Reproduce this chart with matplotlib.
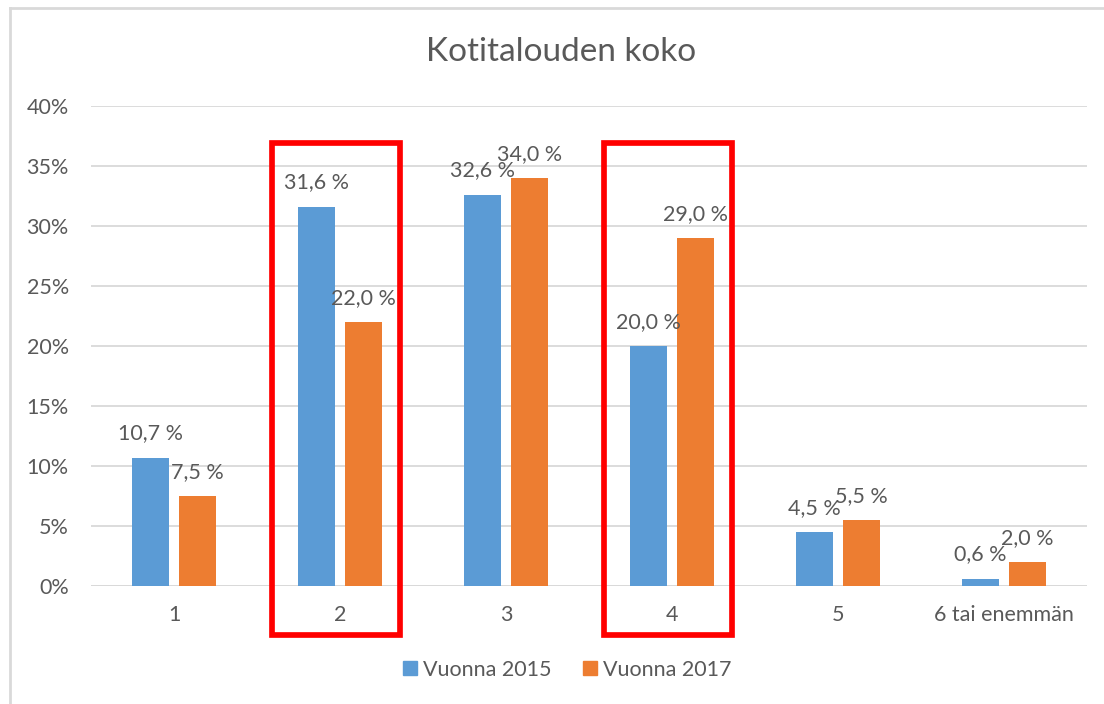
import matplotlib
matplotlib.use("Agg")
import matplotlib.pyplot as plt
from matplotlib.patches import Rectangle
from matplotlib.lines import Line2D
import numpy as np

categories = ["1", "2", "3", "4", "5", "6 tai enemmän"]
vuonna_2015 = [10.7, 31.6, 32.6, 20.0, 4.5, 0.6]
vuonna_2017 = [7.5, 22.0, 34.0, 29.0, 5.5, 2.0]
series_names = ["Vuonna 2015", "Vuonna 2017"]
highlighted = ["2", "4"]
yticks = [0, 5, 10, 15, 20, 25, 30, 35, 40]
title = "Kotitalouden koko"

BLUE = "#5B9BD5"
ORANGE = "#ED7D31"
TXT = "#595959"
GRID = "#D9D9D9"
FONT = "Lato"

W, H = 1104, 704
fig = plt.figure(figsize=(W / 100, H / 100), dpi=100)
plt.rcParams['font.family'] = [FONT, 'DejaVu Sans']

ax = fig.add_axes([91 / W, 1 - 586 / H, (1087 - 91) / W, (586 - 106) / H])
x = np.arange(len(categories))
bw = 0.217
off = 0.1416
b1 = ax.bar(x - off, vuonna_2015, bw, color=BLUE, zorder=3, label=series_names[0])
b2 = ax.bar(x + off, vuonna_2017, bw, color=ORANGE, zorder=3, label=series_names[1])

for bars, vals in ((b1, vuonna_2015), (b2, vuonna_2017)):
    for r, v in zip(bars, vals):
        ax.annotate(f"{v:.1f} %".replace(".", ","),
                    (r.get_x() + r.get_width() / 2, v),
                    xytext=(0, 17.5), textcoords="offset points",
                    ha="center", va="center", fontsize=15.5, color=TXT, zorder=5)

ax.set_xlim(-0.5, len(categories) - 0.5)
ax.set_ylim(0, 40)
ax.set_yticks(yticks)
ax.set_yticklabels([f"{t}%" for t in yticks])
ax.set_xticks(x)
ax.set_xticklabels(categories)
ax.tick_params(axis="both", length=0, labelsize=15.5, labelcolor=TXT)
ax.tick_params(axis="y", pad=16)
ax.tick_params(axis="x", pad=14)
ax.grid(axis="y", color=GRID, linewidth=1.3, zorder=0)
for s in ax.spines.values():
    s.set_visible(False)
ax.axhline(0, color=GRID, linewidth=1.3, zorder=1)

for cat in highlighted:
    i = categories.index(cat)
    ax.add_patch(Rectangle((i - 0.41, -4.1), 0.77, 41.0, fill=False,
                           edgecolor="#FF0000", linewidth=4.1, clip_on=False, zorder=6))

fig.text(561 / W, 1 - 52 / H, title, ha="center", va="center",
         fontsize=24, color=TXT)

handles = [Line2D([], [], marker="s", linestyle="none", markersize=10,
                  markerfacecolor=c, markeredgecolor=c) for c in (BLUE, ORANGE)]
fig.legend(handles, series_names, loc="center", bbox_to_anchor=(565 / W, 1 - 670 / H),
           ncol=2, frameon=False, fontsize=15.5, labelcolor=TXT,
           handletextpad=0.1, columnspacing=1.3, handlelength=1.0)

# outer chart border
fig.add_artist(Line2D([10 / W, 1], [1 - 8 / H, 1 - 8 / H], color=GRID, linewidth=2.0))
fig.add_artist(Line2D([10 / W, 10 / W], [0, 1 - 8 / H], color=GRID, linewidth=2.0))

fig.savefig("out.png", dpi=100)
